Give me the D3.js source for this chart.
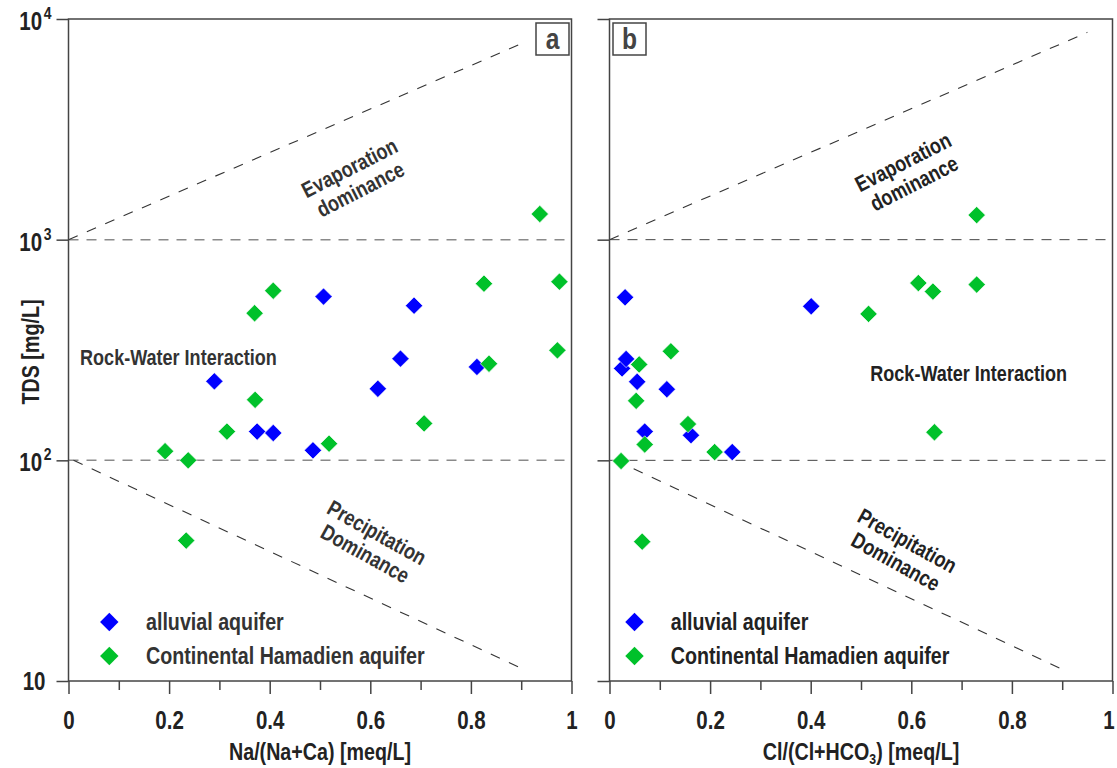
<!DOCTYPE html>
<html>
<head>
<meta charset="utf-8">
<script src="https://cdn.jsdelivr.net/npm/d3@7"></script>
<style>
  body { margin: 0; background: #fff; }
  text { font-family: "Liberation Sans", Arial, sans-serif; }
</style>
</head>
<body>
<svg id="chart" width="1117" height="768"></svg>
<script>
// Gibbs diagram data
const alluvialNa = [0.507, 0.687, 0.660, 0.812, 0.290, 0.615, 0.375, 0.407, 0.486];
const alluvialTdsA = [552, 502, 289, 265, 228, 211, 135, 133, 111];
const hamadienNa = [0.937, 0.826, 0.976, 0.407, 0.370, 0.972, 0.836, 0.371, 0.707, 0.315, 0.518, 0.192, 0.238, 0.234];
const hamadienTdsA = [1307, 632, 645, 587, 464, 315, 274, 188, 147, 135, 119, 110, 100, 43.3];

const alluvialCl = [0.031, 0.401, 0.025, 0.033, 0.055, 0.114, 0.070, 0.162, 0.244];
const alluvialTdsB = [548, 499, 261, 288, 227, 210, 135, 130, 109];
const hamadienCl = [0.730, 0.614, 0.643, 0.730, 0.515, 0.122, 0.059, 0.053, 0.156, 0.646, 0.070, 0.209, 0.023, 0.065];
const hamadienTdsB = [1292, 636, 582, 626, 461, 312, 272, 186, 146, 134, 118, 109, 99.3, 42.8];

const yTicks = [10, 100, 1000, 10000];
const xMajorTicks = [0, 0.2, 0.4, 0.6, 0.8, 1];
const xMinorTicks = [0.1, 0.3, 0.5, 0.7, 0.9];
const refLevels = [100, 1000];
const seriesNames = ['alluvial aquifer', 'Continental Hamadien aquifer'];
const seriesColors = ['#0000ff', '#00c12a'];

const svg = d3.select('#chart');
svg.append('rect').attr('width', 1117).attr('height', 768).attr('fill', '#fff');

const plotTop = 19;
const W = 503;
const H = 662;
const y = d3.scaleLog().domain([10, 10000]).range([H, 0]);

const panels = [
  {
    id: 'a', left: 68.5, title: 'Na/(Na+Ca) [meq/L]', yLabels: true,
    series: [
      d3.zip(alluvialNa, alluvialTdsA),
      d3.zip(hamadienNa, hamadienTdsA)
    ],
    evapLine: [[0, 1000], [0.91, 7900]],
    precipLine: [[0.01, 100], [0.905, 11.3]],
    hColor: '#8a8a8a', hWidth: 1.5,
    evapText: [0.57, 1880], precipText: [0.601, 41.9], rwText: [0.023, 292],
    labelBox: 467.5, legendMark: 40.8, legendText: 77.5, textColor: '#333', lastDx: 0
  },
  {
    id: 'b', left: 609.5, title: 'Cl/(Cl+HCO', yLabels: false,
    series: [
      d3.zip(alluvialCl, alluvialTdsB),
      d3.zip(hamadienCl, hamadienTdsB)
    ],
    evapLine: [[0, 1000], [0.95, 8700]],
    precipLine: [[0.012, 100], [0.9, 11.3]],
    hColor: '#444', hWidth: 1,
    evapText: [0.595, 2000], precipText: [0.58, 38.5], rwText: [0.5185, 245],
    labelBox: 3.5, legendMark: 25, legendText: 61.2, textColor: '#222', lastDx: -4
  }
];

function diamond(size) {
  return d3.symbol().type(d3.symbolSquare).size(size)();
}

// squeeze Liberation Sans horizontally into an Arial Narrow look,
// keeping each text's anchor point where it was
function narrow(sel) {
  sel.each(function () {
    const ax = +this.getAttribute('x') || 0;
    const t = this.getAttribute('transform') || '';
    this.setAttribute('transform', `${t} translate(${ax},0) scale(0.82,1) translate(${-ax},0)`);
  });
}

function drawPanel(p) {
  const g = svg.append('g').attr('transform', `translate(${p.left},${plotTop})`);
  const x = d3.scaleLinear().domain([0, 1]).range([0, W]);

  // reference lines
  g.selectAll('.hline').data(refLevels).join('line')
    .attr('x1', x(0)).attr('x2', x(0.99))
    .attr('y1', d => y(d)).attr('y2', d => y(d))
    .attr('stroke', p.hColor).attr('stroke-width', p.hWidth)
    .attr('stroke-dasharray', '10,8');

  const line = d3.line().x(d => x(d[0])).y(d => y(d[1]));
  [p.evapLine, p.precipLine].forEach(l => {
    g.append('path').attr('d', line(l))
      .attr('fill', 'none').attr('stroke', '#333').attr('stroke-width', 1.1)
      .attr('stroke-dasharray', '10,10');
  });

  // frame
  g.append('rect').attr('width', W).attr('height', H)
    .attr('fill', 'none').attr('stroke', '#444').attr('stroke-width', 1.5);

  // x axis
  const xMajor = g.append('g').attr('transform', `translate(0,${H})`)
    .call(d3.axisBottom(x).tickValues(xMajorTicks).tickSize(13).tickPadding(17).tickFormat(d3.format('~g')));
  const xMinor = g.append('g').attr('transform', `translate(0,${H})`)
    .call(d3.axisBottom(x).tickValues(xMinorTicks).tickSize(9).tickFormat(''));
  [xMajor, xMinor].forEach(a => {
    a.select('.domain').remove();
    a.selectAll('line').attr('stroke', '#444').attr('stroke-width', 1.5);
  });
  xMajor.selectAll('text')
    .attr('font-size', 25).attr('font-weight', 'bold').attr('fill', '#222')
    .attr('x', d => d === 1 ? p.lastDx : 0);

  // y axis ticks
  const yAxis = g.append('g').call(d3.axisLeft(y).tickValues(yTicks).tickSize(12).tickFormat(''));
  yAxis.select('.domain').remove();
  yAxis.selectAll('line').attr('stroke', '#444').attr('stroke-width', 1.5);

  if (p.yLabels) {
    const lab = g.selectAll('.ylab').data(yTicks).join('text')
      .attr('x', d => d === 10 ? -23 : -17)
      .attr('y', d => y(d) + (d === 10 ? 9 : 11))
      .attr('text-anchor', 'end')
      .attr('font-weight', 'bold').attr('fill', '#222');
    lab.append('tspan').attr('font-size', 25).text('10');
    lab.filter(d => d > 10).append('tspan')
      .attr('font-size', 17).attr('dx', 2).attr('dy', -11)
      .text(d => Math.round(Math.log10(d)));
  }

  // x axis title
  const title = g.append('text')
    .attr('x', W / 2).attr('y', H + 79)
    .attr('text-anchor', 'middle')
    .attr('font-size', 24).attr('font-weight', 'bold').attr('fill', '#222');
  title.append('tspan').text(p.title);
  if (p.id === 'b') {
    title.append('tspan').attr('font-size', 15).attr('dy', 4).text('3');
    title.append('tspan').attr('dy', -4).text(') [meq/L]');
  }

  // region annotations
  const ann = (pos, angle, lines) => {
    const t = g.append('g')
      .attr('transform', `translate(${x(pos[0])},${y(pos[1])}) rotate(${angle})`);
    lines.forEach((s, i) => {
      t.append('text')
        .attr('text-anchor', 'middle')
        .attr('y', (i - (lines.length - 1) / 2) * 24 + 7)
        .attr('font-size', 22).attr('font-weight', 'bold').attr('fill', p.textColor)
        .text(s);
    });
  };
  ann(p.evapText, -27, ['Evaporation', 'dominance']);
  ann(p.precipText, 29, ['Precipitation', 'Dominance']);
  g.append('text')
    .attr('x', x(p.rwText[0])).attr('y', y(p.rwText[1]) + 7)
    .attr('font-size', 22).attr('font-weight', 'bold').attr('fill', p.textColor)
    .text('Rock-Water Interaction');

  // points
  p.series.forEach((pts, i) => {
    g.append('g').selectAll('path').data(pts).join('path')
      .attr('d', diamond(150))
      .attr('transform', d => `translate(${x(d[0])},${y(d[1])}) rotate(45)`)
      .attr('fill', seriesColors[i])
      .attr('stroke', '#fff').attr('stroke-width', 0.6);
  });

  // legend
  seriesNames.forEach((name, i) => {
    const ly = 603 + i * 34;
    g.append('path').attr('d', diamond(170))
      .attr('transform', `translate(${p.legendMark},${ly}) rotate(45)`)
      .attr('fill', seriesColors[i]);
    g.append('text')
      .attr('x', p.legendText).attr('y', ly + 8)
      .attr('font-size', 24).attr('font-weight', 'bold').attr('fill', p.textColor)
      .text(name);
  });

  // panel letter
  g.append('rect').attr('x', p.labelBox).attr('y', 4).attr('width', 33).attr('height', 32)
    .attr('fill', '#fff').attr('stroke', '#444').attr('stroke-width', 1.5);
  g.append('text')
    .attr('x', p.labelBox + 16.5).attr('y', 30)
    .attr('text-anchor', 'middle')
    .attr('font-size', 30).attr('font-weight', 'bold').attr('fill', '#444')
    .text(p.id);
}

panels.forEach(drawPanel);

// y axis title
svg.append('text')
  .attr('transform', 'translate(31,352) rotate(-90)')
  .attr('text-anchor', 'middle').attr('dy', '0.35em')
  .attr('font-size', 24).attr('font-weight', 'bold').attr('fill', '#222')
  .text('TDS [mg/L]');

svg.selectAll('text').call(narrow);
</script>
</body>
</html>
